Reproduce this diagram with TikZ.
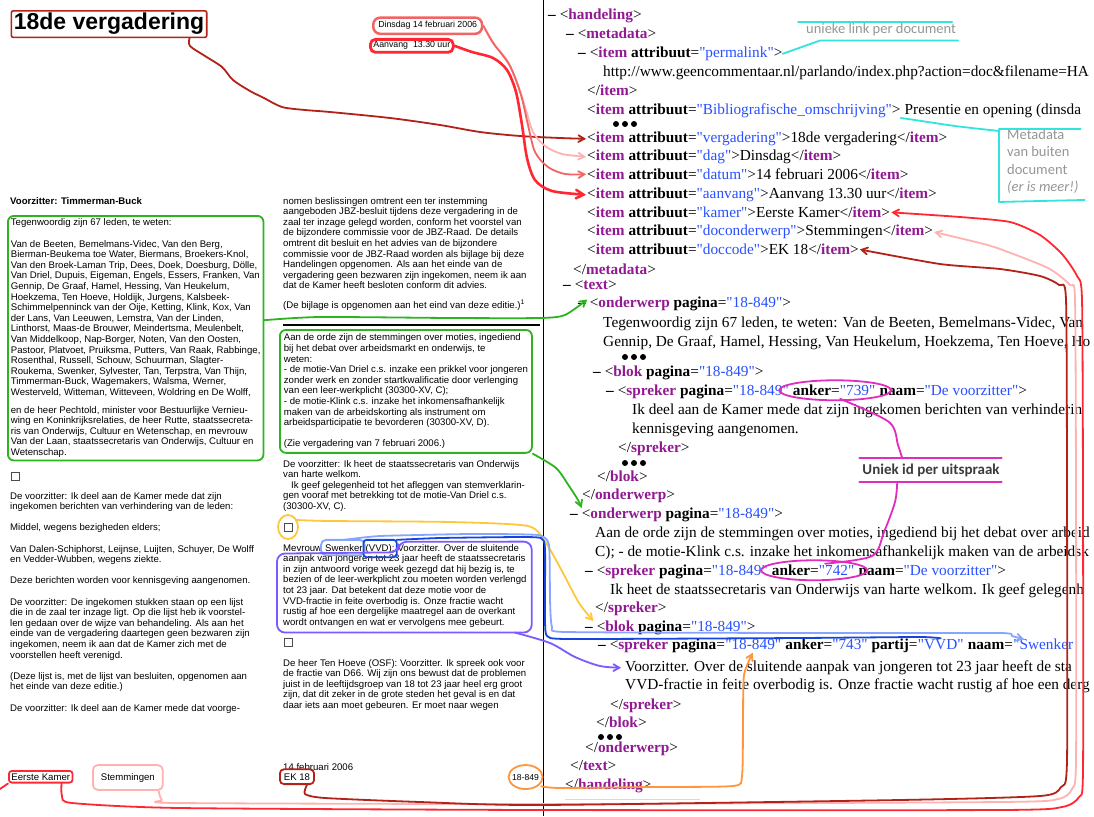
\documentclass[tikz,border=0pt]{standalone}
\usepackage{fontspec}
\setmainfont{Liberation Serif}
\setsansfont{Liberation Sans}
\newfontfamily\xmlserif{Liberation Serif}
\newfontfamily\notefont{Carlito}
\usetikzlibrary{arrows,calc}

\definecolor{cdred}{RGB}{178,34,24}
\definecolor{csalmon}{RGB}{242,100,100}
\definecolor{cpink}{RGB}{255,178,178}
\definecolor{cred}{RGB}{255,40,50}
\definecolor{cgreen}{RGB}{45,180,30}
\definecolor{ccyan}{RGB}{50,228,220}
\definecolor{cmag}{RGB}{225,45,190}
\definecolor{cgold}{RGB}{255,200,60}
\definecolor{clblue}{RGB}{135,165,255}
\definecolor{cdblue}{RGB}{20,70,220}
\definecolor{cpurp}{RGB}{125,90,255}
\definecolor{corange}{RGB}{255,150,60}
\definecolor{xtag}{RGB}{145,25,145}
\definecolor{xval}{RGB}{40,80,255}
\definecolor{notegray}{RGB}{150,150,150}
\definecolor{uniekgray}{RGB}{60,60,60}

\newcommand{\docfont}{\sffamily\fontsize{9.6}{10.6}\selectfont}
\newcommand{\xmlfont}{\xmlserif\fontsize{15.3}{18.8}\selectfont}
\newcommand{\tg}[1]{\textcolor{xtag}{\textbf{#1}}}
\newcommand{\av}[2]{\textbf{#1}=\textcolor{xval}{"#2"}}
\newcommand{\mn}{\textbf{\textendash}\ }
\newcommand{\dotsat}[2]{\foreach \i in {0,1,2}{\fill ({#1+9*\i},#2) circle (3pt);}}

\begin{document}
\begin{tikzpicture}[x=1pt,y=-1pt,
   doc/.style={font=\docfont, align=left, anchor=base west, inner sep=0pt},
   para/.style={doc, anchor=north west},
   xml/.style={font=\xmlfont, anchor=base west, inner sep=0pt},
   note/.style={font=\notefont\fontsize{14.5}{17.5}\selectfont, text=notegray, anchor=base west, inner sep=0pt},
   hline/.style={line width=1.8pt, line cap=round, line join=round},
   harrow/.style={hline, ->, >=angle 60, shorten >=1pt},
   cbox/.style={draw=black!70, line width=0.7pt, minimum size=8pt, inner sep=0pt},
   dgap/.style={xshift=2.7pt}, xgap/.style={xshift=3.8pt}]
\useasboundingbox (0,0) rectangle (1094,816);
\fill[white] (0,0) rectangle (1094,816);

\node[font=\sffamily\bfseries\fontsize{23}{23}\selectfont, anchor=base west, draw=cdred, line width=1.6pt, rounded corners=2pt, inner sep=2.5pt] (title) at (10.5,30) {18de vergadering};
\node[font=\sffamily\fontsize{8.8}{10}\selectfont, anchor=base west, draw=csalmon, line width=2.5pt, rounded corners=7pt, inner xsep=5pt, inner ysep=4pt] (dins) at (372,28) {Dinsdag 14 februari 2006};
\node[font=\sffamily\fontsize{8.8}{10}\selectfont, anchor=base west, draw=cred, line width=2.8pt, rounded corners=5pt, inner xsep=3pt, inner ysep=2.5pt] (aanv) at (369,48) {Aanvang\ \ 13.30 uur};

\node[doc] (chair) at (10,204) {\textbf{Voorzitter: Timmerman-Buck}};
\node[para, draw=cgreen, hline, rounded corners=6pt, inner sep=3pt] (pres) at (7,215) {Tegenwoordig zijn 67 leden, te weten:\\[10.6pt]
Van de Beeten, Bemelmans-Videc, Van den Berg,\\
Bierman-Beukema toe Water, Biermans, Broekers-Knol,\\
Van den Broek-Laman Trip, Dees, Doek, Doesburg, Dölle,\\
Van Driel, Dupuis, Eigeman, Engels, Essers, Franken, Van\\
Gennip, De Graaf, Hamel, Hessing, Van Heukelum,\\
Hoekzema, Ten Hoeve, Holdijk, Jurgens, Kalsbeek-\\
Schimmelpenninck van der Oije, Ketting, Klink, Kox, Van\\
der Lans, Van Leeuwen, Lemstra, Van der Linden,\\
Linthorst, Maas-de Brouwer, Meindertsma, Meulenbelt,\\
Van Middelkoop, Nap-Borger, Noten, Van den Oosten,\\
Pastoor, Platvoet, Pruiksma, Putters, Van Raak, Rabbinge,\\
Rosenthal, Russell, Schouw, Schuurman, Slagter-\\
Roukema, Swenker, Sylvester, Tan, Terpstra, Van Thijn,\\
Timmerman-Buck, Wagemakers, Walsma, Werner,\\
Westerveld, Witteman, Witteveen, Woldring en De Wolff,\\[7pt]
en de heer Pechtold, minister voor Bestuurlijke Vernieu-\\
wing en Koninkrijksrelaties, de heer Rutte, staatssecreta-\\
ris van Onderwijs, Cultuur en Wetenschap, en mevrouw\\
Van der Laan, staatssecretaris van Onderwijs, Cultuur en\\
Wetenschap.};
\node[cbox] (cb1) at (15,476) {};
\node[para] (vh1) at (10,492) {De voorzitter: Ik deel aan de Kamer mede dat zijn\\
ingekomen berichten van verhindering van de leden:\\[10.6pt]
Middel, wegens bezigheden elders;\\[10.6pt]
Van Dalen-Schiphorst, Leijnse, Luijten, Schuyer, De Wolff\\
en Vedder-Wubben, wegens ziekte.\\[10.6pt]
Deze berichten worden voor kennisgeving aangenomen.\\[10.6pt]
De voorzitter: De ingekomen stukken staan op een lijst\\
die in de zaal ter inzage ligt. Op die lijst heb ik voorstel-\\
len gedaan over de wijze van behandeling. Als aan het\\
einde van de vergadering daartegen geen bezwaren zijn\\
ingekomen, neem ik aan dat de Kamer zich met de\\
voorstellen heeft verenigd.\\[10.6pt]
(Deze lijst is, met de lijst van besluiten, opgenomen aan\\
het einde van deze editie.)\\[10.6pt]
De voorzitter: Ik deel aan de Kamer mede dat voorge-};

\node[para] (mid1) at (283,197) {nomen beslissingen omtrent een ter instemming\\
aangeboden JBZ-besluit tijdens deze vergadering in de\\
zaal ter inzage gelegd worden, conform het voorstel van\\
de bijzondere commissie voor de JBZ-Raad. De details\\
omtrent dit besluit en het advies van de bijzondere\\
commissie voor de JBZ-Raad worden als bijlage bij deze\\
Handelingen opgenomen. Als aan het einde van de\\
vergadering geen bezwaren zijn ingekomen, neem ik aan\\
dat de Kamer heeft besloten conform dit advies.\\[9pt]
(De bijlage is opgenomen aan het eind van deze editie.)\textsuperscript{1}};
\draw[line width=2.5pt] (283,325) -- (540,325);
\node[para, draw=cgreen, hline, rounded corners=6pt, inner sep=4pt] (motie) at (279,329) {Aan de orde zijn de stemmingen over moties, ingediend\\
bij het debat over arbeidsmarkt en onderwijs, te\\
weten:\\
- de motie-Van Driel c.s. inzake een prikkel voor jongeren\\
zonder werk en zonder startkwalificatie door verlenging\\
van een leer-werkplicht (30300-XV, C);\\
- de motie-Klink c.s. inzake het inkomensafhankelijk\\
maken van de arbeidskorting als instrument om\\
arbeidsparticipatie te bevorderen (30300-XV, D).\\[10.6pt]
(Zie vergadering van 7 februari 2006.)};
\node[para] (vh2) at (283,460) {De voorzitter: Ik heet de staatssecretaris van Onderwijs\\
van harte welkom.\\
\hspace*{8pt}Ik geef gelegenheid tot het afleggen van stemverklarin-\\
gen vooraf met betrekking tot de motie-Van Driel c.s.\\
(30300-XV, C).};
\node[cbox] (cb2) at (288,527) {};
\node[doc] (sw0) at (283,551) {Mevrouw};
\node[doc, dgap] (sw1) at (sw0.base east) {Swenker};
\node[doc, dgap] (sw2) at (sw1.base east) {(VVD):};
\node[doc, dgap] (sw3) at (sw2.base east) {Voorzitter. Over de sluitende};
\node[para] (swrest) at (283,554.6) {aanpak van jongeren tot 23 jaar heeft de staatssecretaris\\
in zijn antwoord vorige week gezegd dat hij bezig is, te\\
bezien of de leer-werkplicht zou moeten worden verlengd\\
tot 23 jaar. Dat betekent dat deze motie voor de\\
VVD-fractie in feite overbodig is. Onze fractie wacht\\
rustig af hoe een dergelijke maatregel aan de overkant\\
wordt ontvangen en wat er vervolgens mee gebeurt.};
\node[cbox] (cb3) at (288,642) {};
\node[para] (th) at (283,659) {De heer Ten Hoeve (OSF): Voorzitter. Ik spreek ook voor\\
de fractie van D66. Wij zijn ons bewust dat de problemen\\
juist in de leeftijdsgroep van 18 tot 23 jaar heel erg groot\\
zijn, dat dit zeker in de grote steden het geval is en dat\\
daar iets aan moet gebeuren. Er moet naar wegen};

\node[doc] (date) at (283,770) {14 februari 2006};
\node[doc, draw=cred, hline, rounded corners=3pt, inner sep=2.5pt] (ek1) at (8,780) {Eerste Kamer};
\node[doc, draw=cpink, hline, rounded corners=5pt, inner xsep=8pt, inner ysep=8pt] (stem) at (92,780) {Stemmingen};
\node[doc, draw=cdred, hline, rounded corners=4pt, inner sep=4pt] (ek18) at (279,780) {EK 18};
\node[doc, font=\sffamily\fontsize{8.6}{10}\selectfont] (pgb) at (512,780) {18-849};

\draw[line width=0.6pt] (543,0) -- (543,816);

\node[xml] (x-hand) at (548,19.5) {\mn<\tg{handeling}>};
\node[xml] (x-meta) at (566,38.5) {\mn<\tg{metadata}>};
\node[xml] (x-perm) at (578,57.5) {\mn<\tg{item} \av{attribuut}{permalink}>};
\node[xml] (x-url) at (603,76.5) {http://www.geencommentaar.nl/parlando/index.php?action=doc\&filename=HA};
\node[xml] (x-iend) at (587,95.5) {</\tg{item}>};
\node[xml] (x-bib) at (587,114.5) {<\tg{item} \av{attribuut}{Bibliografische\_omschrijving}>};
\node[xml, xgap] (x-bib2) at (x-bib.base east) {Presentie en opening (dinsda};
\dotsat{616}{124}
\node[xml] (x-verg) at (587,142.5) {<\tg{item} \av{attribuut}{vergadering}>18de vergadering</\tg{item}>};
\node[xml] (x-dag) at (587,160.5) {<\tg{item} \av{attribuut}{dag}>Dinsdag</\tg{item}>};
\node[xml] (x-datum) at (587,179.5) {<\tg{item} \av{attribuut}{datum}>14 februari 2006</\tg{item}>};
\node[xml] (x-aanvx) at (587,198.5) {<\tg{item} \av{attribuut}{aanvang}>Aanvang 13.30 uur</\tg{item}>};
\node[xml] (x-kamer) at (587,217.5) {<\tg{item} \av{attribuut}{kamer}>Eerste Kamer</\tg{item}>};
\node[xml] (x-docond) at (587,235.5) {<\tg{item} \av{attribuut}{doconderwerp}>Stemmingen</\tg{item}>};
\node[xml] (x-doccode) at (587,254.5) {<\tg{item} \av{attribuut}{doccode}>EK 18</\tg{item}>};
\node[xml] (x-metaend) at (573,274.5) {</\tg{metadata}>};
\node[xml] (x-text) at (563,289.5) {\mn<\tg{text}>};
\node[xml] (x-ond1) at (578,307.5) {\mn<\tg{onderwerp} \av{pagina}{18-849}>};
\node[xml] (x-teg1) at (603,327.5) {Tegenwoordig zijn 67 leden, te weten: Van de Beeten, Bemelmans-Videc, Van};
\node[xml] (x-teg2) at (603,346.5) {Gennip, De Graaf, Hamel, Hessing, Van Heukelum, Hoekzema, Ten Hoeve, Ho};
\dotsat{625}{357}
\node[xml] (x-blok1) at (593,376.5) {\mn<\tg{blok} \av{pagina}{18-849}>};
\node[xml] (x-sp739) at (606,395.5) {\mn<\tg{spreker} \av{pagina}{18-849}};
\node[xml, xgap] (a739) at (x-sp739.base east) {\av{anker}{739}};
\node[xml, xgap] (n739) at (a739.base east) {\av{naam}{De voorzitter}>};
\node[xml] (x-ikdeel1) at (632,414.5) {Ik deel aan de Kamer mede dat zijn ingekomen berichten van verhinderin};
\node[xml] (x-ikdeel2) at (632,433.5) {kennisgeving aangenomen.};
\node[xml] (x-spend1) at (618,452.5) {</\tg{spreker}>};
\dotsat{625}{463}
\node[xml] (x-blokend1) at (597,481.5) {</\tg{blok}>};
\node[xml] (x-ondend1) at (582,499.5) {</\tg{onderwerp}>};
\node[xml] (x-ond2) at (570,518.5) {\mn<\tg{onderwerp} \av{pagina}{18-849}>};
\node[xml] (x-aan1) at (595,537.5) {Aan de orde zijn de stemmingen over moties, ingediend bij het debat over arbeid};
\node[xml] (x-aan2) at (595,556.5) {C); - de motie-Klink c.s. inzake het inkomensafhankelijk maken van de arbeidsk};
\node[xml] (x-sp742) at (585,575.5) {\mn<\tg{spreker} \av{pagina}{18-849}};
\node[xml, xgap] (a742) at (x-sp742.base east) {\av{anker}{742}};
\node[xml, xgap] (n742) at (a742.base east) {\av{naam}{De voorzitter}>};
\node[xml] (x-ikheet) at (610,594.5) {Ik heet de staatssecretaris van Onderwijs van harte welkom. Ik geef gelegenh};
\node[xml] (x-spend2) at (595,612.5) {</\tg{spreker}>};
\node[xml] (x-blok2) at (585,631.5) {\mn<\tg{blok} \av{pagina}{18-849}>};
\node[xml] (x-sp743) at (598,649.5) {\mn<\tg{spreker} \textbf{pagina}=};
\node[xml] (pg743) at (x-sp743.base east) {\textcolor{xval}{"18-849"}};
\node[xml, xgap] (a743) at (pg743.base east) {\av{anker}{743} \textbf{partij}=};
\node[xml] (vvd) at (a743.base east) {\textcolor{xval}{"VVD"}};
\node[xml, xgap] (nm743) at (vvd.base east) {\textbf{naam}=};
\node[xml] (swx) at (nm743.base east) {\textcolor{xval}{"Swenker}};
\node[xml] (x-voorz) at (625,671.5) {Voorzitter. Over de sluitende aanpak van jongeren tot 23 jaar heeft de sta};
\node[xml] (x-vvdfr) at (625,689.5) {VVD-fractie in feite overbodig is. Onze fractie wacht rustig af hoe een derg};
\node[xml] (x-spend3) at (610,709.5) {</\tg{spreker}>};
\node[xml] (x-blokend2) at (596,727.5) {</\tg{blok}>};
\dotsat{601}{737}
\node[xml] (x-ondend2) at (585,752) {</\tg{onderwerp}>};
\node[xml] (x-textend) at (570,770.5) {</\tg{text}>};
\node[xml] (x-handend) at (565,789.5) {</\tg{handeling}>};
\draw[black!15, line width=1pt] ($(x-handend.south west)+(0,6)$) -- ++(135,0);

\node[note] (tlink) at (806,34) {unieke link per document};
\node[note, anchor=north west, align=left] (tmeta) at (1007,129) {Metadata\\van buiten\\document\\\textit{(er is meer!)}};
\node[font=\notefont\bfseries\fontsize{15}{17}\selectfont, text=uniekgray, inner xsep=0pt, inner ysep=5pt] (uniek) at (931,470) {Uniek id per uitspraak};

\draw[hline, ccyan] ($(tlink.north west)+(-8,-2)$) -- ($(tlink.north east)+(-4,-2)$);
\draw[hline, ccyan] (x-perm.east) -- ($(tlink.south west)+(14,4)$) -- ($(tlink.south east)+(2,4)$);
\draw[hline, ccyan] plot[smooth, tension=0.5] coordinates {(x-bib.south east) (915,120) (955,126) ($(tmeta.north west)+(-8,2)$)};
\draw[hline, ccyan] ($(tmeta.north east)+(2,0)$) -- ($(tmeta.north west)+(-8,0)$) -- ($(tmeta.south west)+(-8,8)$) -- ($(tmeta.south east)+(6,6)$);

\draw[harrow, cdred] plot[smooth, tension=0.5] coordinates {($(title.south east)+(-18,0)$) (190,46) (205,56) (222,67) (233,80) (250,91) (264,98) (282,107) (305,110) (330,112) (390,118) (440,125) (480,132) (520,136) (560,138) (x-verg.west)};
\draw[harrow, cpink] plot[smooth, tension=0.5] coordinates {(dins.east) (492,42) (507,60) (518,85) (526,110) (533,132) (545,146) (562,154) (x-dag.west)};
\draw[harrow, csalmon] plot[smooth, tension=0.5] coordinates {(dins.east) (494,44) (510,66) (521,95) (528,125) (535,152) (548,167) (565,174) (x-datum.west)};
\draw[harrow, cred, line width=2.6pt] plot[smooth, tension=0.5] coordinates {(aanv.east) (472,52) (493,58) (507,70) (516,92) (522,125) (527,158) (535,180) (552,191) (x-aanvx.west)};

\draw[hline, cred] (0,789) -- (ek1.south west);
\draw[harrow, cred] plot[smooth, tension=0.4] coordinates {($(ek1.south east)+(-12,0)$) (62,796) (72,803) (180,808) (540,810) (1000,810) (1062,807) (1079,797) (1083,770) (1083,500) (1082,300) (1077,276) (1062,254) (1040,235) (1010,222) (960,217) (x-kamer.east)};
\draw[harrow, cpink] plot[smooth, tension=0.4] coordinates {($(stem.south east)+(-5,0)$) (162,800) (178,803) (540,804) (1000,802) (1058,799) (1072,789) (1076,760) (1076,500) (1075,300) (1070,285) (1048,268) (1000,249) (980,243) (x-docond.east)};
\draw[harrow, cdred] plot[smooth, tension=0.4] coordinates {($(ek18.south east)+(-8,0)$) (305,794) (325,798) (420,802) (540,805) (900,800) (1040,796) (1061,787) (1067,760) (1067,500) (1066,300) (1059,285) (1040,276) (1000,269) (940,264) (x-doccode.east)};

\draw[harrow, cgreen] plot[smooth, tension=0.4] coordinates {($(pres.east)+(0,-18)$) (320,317) (450,318) (540,318) (565,315) ($(x-ond1.west)+(10,-5)$)};
\draw[harrow, cgreen] plot[smooth, tension=0.5] coordinates {(motie.south east) (556,468) (569,486) (578,500) ($(x-ond2.west)+(12,-6)$)};

\draw[hline, cmag] ($(a739.center)+(1,0)$) ellipse [x radius=56pt, y radius=10pt];
\draw[hline, cmag] ($(a742.center)+(1,0)$) ellipse [x radius=53pt, y radius=10pt];
\draw[hline, cmag] ($(uniek.north west)+(-3,0)$) -- ($(uniek.north east)+(2,0)$);
\draw[hline, cmag] ($(uniek.south west)+(-3,0)$) -- ($(uniek.south east)+(2,0)$);
\draw[hline, cmag] plot[smooth, tension=0.5] coordinates {($(a739.south)+(6,3)$) (889,422) (898,445) ($(uniek.north west)+(40,0)$)};
\draw[hline, cmag] plot[smooth, tension=0.5] coordinates {($(uniek.south west)+(35,0)$) (895,502) (884,532) (872,556) ($(a742.north)+(12,-1)$)};

\draw[hline, cgold] (cb2) ellipse [x radius=10pt, y radius=12pt];
\draw[harrow, cgold] plot[smooth, tension=0.4] coordinates {($(cb2)+(9,-7)$) (330,521) (450,522) (528,526) (546,543) (563,573) (579,603) ($(x-blok2.west)+(9,-6)$)};

\draw[hline, clblue, rounded corners=5pt] ($(sw1.south west)+(-4,4)$) rectangle ($(sw1.north east)+(2,-4)$);
\draw[harrow, clblue] plot[smooth, tension=0.3] coordinates {($(sw1.north)+(0,-4)$) (380,536) (470,534) (538,535) (549,545) (550,600) (552,627) (566,632) (800,633) (1000,633) (1012,636) ($(swx.north west)+(12,1)$)};
\draw[hline, cdblue, rounded corners=3pt] ($(sw2.south west)+(-2,4)$) rectangle ($(sw2.north east)+(2,-4)$);
\draw[hline, cdblue] plot[smooth, tension=0.3] coordinates {($(sw2.north east)+(2,-4)$) (440,538) (520,537) (541,538) (545,548) (545,620) (547,636) (568,639) (800,638) (920,637) ($(vvd.north)+(0,-1)$)};

\draw[hline, cpurp, rounded corners=8pt] ($(sw3.north west)+(1,-2)$) -- ($(swrest.north east)+(5,-13)$) -- ($(swrest.south east)+(5,5)$) -- ($(swrest.south west)+(-6,5)$) -- ($(swrest.north west)+(-6,-1)$) -- ($(sw3.south west)+(1,1)$) -- cycle;
\draw[harrow, cpurp] plot[smooth, tension=0.5] coordinates {($(swrest.south east)+(-12,5)$) (550,643) (575,657) (600,666) ($(x-voorz.west)+(-3,0)$)};

\draw[hline, corange] (pgb.center) ellipse [x radius=17pt, y radius=12pt];
\draw[harrow, corange] plot[smooth, tension=0.4] coordinates {($(pgb.south east)+(2,6)$) (560,788) (650,787) (733,786) (742,776) (743,720) (744,675) ($(pg743.south)+(0,2)$)};
\end{tikzpicture}
\end{document}
